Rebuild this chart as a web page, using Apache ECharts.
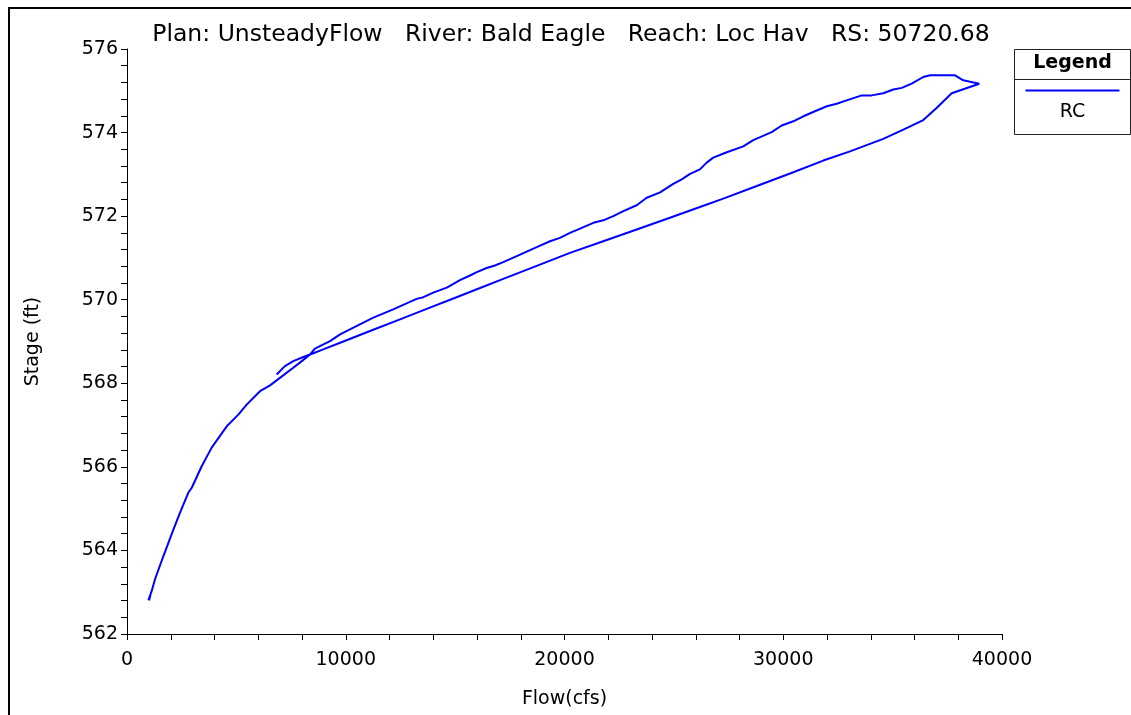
<!doctype html>
<html>
    <head>
        <meta charset="utf-8">
        <title>Rating curve - RS 50720.68</title>
        <style>
            html, body { margin: 0; padding: 0; background: #fff; }
            #main { width: 1131px; height: 715px; }
        </style>
    </head>
    <body>
        <div id="main"></div>
        <script src="https://cdn.jsdelivr.net/npm/echarts@6/dist/echarts.min.js"></script>
        <script>
            var titleText = 'Plan: UnsteadyFlow   River: Bald Eagle   Reach: Loc Hav   RS: 50720.68';
            var seriesName = 'RC';
            var xTitle = 'Flow(cfs)';
            var yTitle = 'Stage (ft)';

            // flow (cfs): start point, rising limb, peak, falling limb, low end
            var flow = [
                6840, 7220, 7600, 8060, 8370,
                8970, 9890, 11110, 12480, 13700, 14920, 16140, 17200, 18730, 20250,
                21770, 23300, 24820, 26190, 27260, 28790, 30310, 31830, 33050, 34570,
                35490, 36400, 37010, 37700, 38960,
                38230, 37850, 36710, 36400, 35870, 35420, 35030, 34570, 34040, 33590,
                32900, 32440, 31990, 31450, 30920, 30460, 29930, 29470, 28630, 28170,
                27420, 26800, 26500, 26190, 25740, 25360, 24970, 24370, 23760, 23300,
                22690, 22230, 21770, 21320, 20710, 20250, 19790, 19340, 18730, 17970,
                17200, 16820, 16440, 15990, 15680, 15220, 14620, 14000, 13550, 13240,
                12170, 11260, 10350, 9740, 9280, 8590, 8370,
                7990, 7600, 6990, 6540, 6080, 5470, 5090, 4560, 3870, 3420,
                2960, 2800, 2420, 2120, 1660, 1280, 1130, 980, 1070, 1010
            ];
            // stage (ft), same order
            var stage = [
                568.21, 568.41, 568.53, 568.63, 568.69,
                568.81, 569.00, 569.25, 569.53, 569.78, 570.03, 570.28, 570.50, 570.81, 571.12,
                571.40, 571.68, 571.96, 572.22, 572.42, 572.72, 573.02, 573.33, 573.55, 573.85,
                574.07, 574.30, 574.59, 574.94, 575.17,
                575.25, 575.37, 575.37, 575.33, 575.17, 575.07, 575.03, 574.94, 574.89, 574.89,
                574.77, 574.69, 574.63, 574.51, 574.39, 574.27, 574.17, 574.01, 573.82, 573.67,
                573.53, 573.40, 573.28, 573.12, 573.01, 572.88, 572.77, 572.57, 572.44, 572.26,
                572.12, 572.00, 571.90, 571.84, 571.70, 571.60, 571.48, 571.40, 571.26, 571.08,
                570.90, 570.82, 570.76, 570.66, 570.58, 570.47, 570.29, 570.17, 570.06, 570.02,
                569.77, 569.57, 569.33, 569.17, 569.01, 568.83, 568.69,
                568.53, 568.37, 568.13, 567.95, 567.81, 567.49, 567.25, 566.97, 566.46, 566.02,
                565.50, 565.38, 564.90, 564.50, 563.86, 563.31, 563.03, 562.81, 562.93, 562.80
            ];

            var xMin = 0, xMax = 40000, xStep = 10000;
            var yMin = 562, yMax = 576, yStep = 2;

            var points = flow.map(function (f, i) {
                return [f, stage[i]];
            });

            var font = 'DejaVu Sans';
            var chart = echarts.init(document.getElementById('main'));

            chart.setOption({
                animation: false,
                backgroundColor: '#fff',
                textStyle: { fontFamily: font, color: '#000' },
                title: {
                    text: titleText,
                    left: 566,
                    top: 18,
                    textAlign: 'center',
                    textStyle: { fontFamily: font, fontSize: 23.5, fontWeight: 'normal', color: '#000' }
                },
                grid: {
                    left: 127,
                    right: 129,
                    top: 49,
                    bottom: 81,
                    containLabel: false,
                    outerBoundsMode: 'none'
                },
                xAxis: {
                    type: 'value',
                    min: xMin,
                    max: xMax,
                    interval: xStep,
                    name: xTitle,
                    nameLocation: 'middle',
                    nameGap: 56,
                    nameTextStyle: { fontFamily: font, fontSize: 19, color: '#000' },
                    axisLine: { show: true, onZero: false, lineStyle: { color: '#000', width: 1 } },
                    axisTick: { show: true, inside: false, length: 6, lineStyle: { color: '#000' } },
                    minorTick: { show: true, splitNumber: 5, length: 6, lineStyle: { color: '#000' } },
                    splitLine: { show: false },
                    axisLabel: {
                        margin: 17,
                        fontFamily: font,
                        fontSize: 19,
                        color: '#000',
                        formatter: function (v) { return String(v); }
                    }
                },
                yAxis: {
                    type: 'value',
                    min: yMin,
                    max: yMax,
                    interval: yStep,
                    name: yTitle,
                    nameLocation: 'middle',
                    nameRotate: 90,
                    nameGap: 84,
                    nameTextStyle: { fontFamily: font, fontSize: 19, color: '#000' },
                    axisLine: { show: true, onZero: false, lineStyle: { color: '#000', width: 1 } },
                    axisTick: { show: true, inside: false, length: 6, lineStyle: { color: '#000' } },
                    minorTick: { show: true, splitNumber: 5, length: 6, lineStyle: { color: '#000' } },
                    splitLine: { show: false },
                    axisLabel: {
                        margin: 9,
                        fontFamily: font,
                        fontSize: 19,
                        color: '#000'
                    }
                },
                series: [{
                    name: seriesName,
                    type: 'line',
                    data: points,
                    showSymbol: false,
                    smooth: false,
                    clip: false,
                    lineStyle: { color: '#0000ff', width: 2 },
                    itemStyle: { color: '#0000ff' }
                }],
                graphic: [
                    {
                        type: 'rect',
                        silent: true,
                        shape: { x: 9, y: 8, width: 1200, height: 800 },
                        style: { fill: 'none', stroke: '#000', lineWidth: 2 }
                    },
                    {
                        type: 'group',
                        left: 1012,
                        top: 49,
                        children: [
                            {
                                type: 'rect',
                                shape: { x: 0, y: 0, width: 116, height: 85 },
                                style: { fill: '#fff', stroke: '#222', lineWidth: 1 }
                            },
                            {
                                type: 'line',
                                shape: { x1: 0, y1: 30, x2: 116, y2: 30 },
                                style: { stroke: '#222', lineWidth: 1 }
                            },
                            {
                                type: 'text',
                                x: 58,
                                y: 14,
                                style: {
                                    text: 'Legend',
                                    font: 'bold 19px "DejaVu Sans"',
                                    fill: '#000',
                                    align: 'center',
                                    verticalAlign: 'middle'
                                }
                            },
                            {
                                type: 'line',
                                shape: { x1: 11, y1: 41, x2: 105, y2: 41 },
                                style: { stroke: '#0000ff', lineWidth: 2 }
                            },
                            {
                                type: 'text',
                                x: 58,
                                y: 63,
                                style: {
                                    text: seriesName,
                                    font: '19px "DejaVu Sans"',
                                    fill: '#000',
                                    align: 'center',
                                    verticalAlign: 'middle'
                                }
                            }
                        ]
                    }
                ]
            });

            window.addEventListener('resize', function () {
                chart.resize();
            });
        </script>
    </body>
</html>
